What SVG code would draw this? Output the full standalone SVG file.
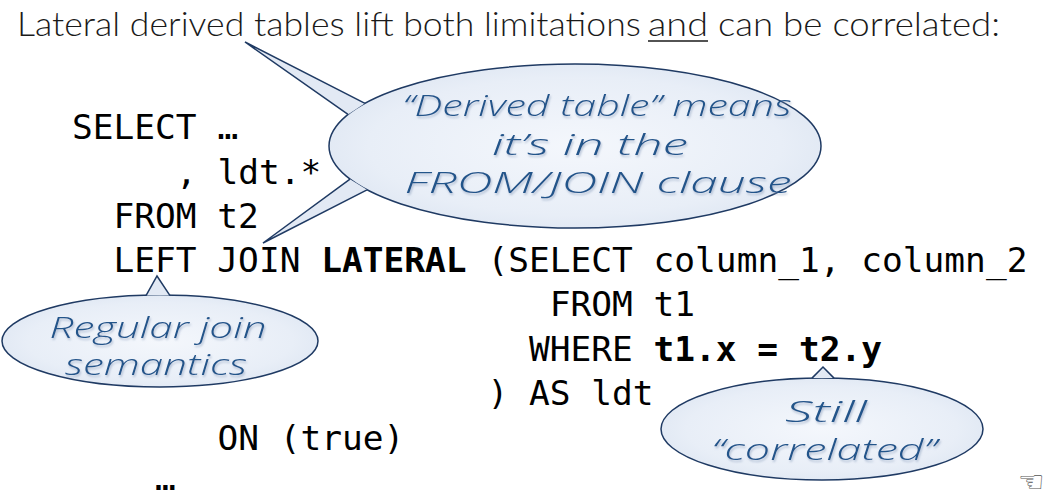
<svg xmlns="http://www.w3.org/2000/svg" width="1052" height="499" viewBox="0 0 1052 499">
<defs>
<style>
.title{font-family:Lato,"Open Sans","Liberation Sans",sans-serif;font-weight:300;font-size:34px;fill:#1a1a1a}
.code{font-family:"DejaVu Sans Mono","Liberation Mono",monospace;font-size:34.5px;fill:#000;white-space:pre}
.b{font-weight:bold}
.bubble{fill:url(#bg);stroke:#1f3a63;stroke-width:1.5}
.tail{fill:#e2e9f4;stroke:#1f3a63;stroke-width:1.5}
.hand{font-family:"Open Sans","DejaVu Sans",sans-serif;font-style:italic;font-weight:300;font-size:29px;fill:#24548a;text-anchor:middle;filter:url(#sh)}
</style>
<radialGradient id="bg" cx="0.5" cy="0.5" r="0.6">
<stop offset="0" stop-color="#f4f7fc"/>
<stop offset="0.7" stop-color="#e8eef7"/>
<stop offset="1" stop-color="#dbe4f1"/>
</radialGradient>
<filter id="sh" x="-10%" y="-30%" width="120%" height="160%">
<feDropShadow dx="1" dy="2" stdDeviation="1.2" flood-color="#7f95b5" flood-opacity="0.55"/>
</filter>
</defs>
<rect width="1052" height="499" fill="#fff"/>
<g id="title">
<text class="title" x="17" y="36" textLength="624" lengthAdjust="spacingAndGlyphs">Lateral derived tables lift both limitations</text>
<text class="title" x="648" y="36" textLength="60" lengthAdjust="spacingAndGlyphs">and</text>
<text class="title" x="718" y="36" textLength="282" lengthAdjust="spacingAndGlyphs">can be correlated:</text>
<line x1="648" y1="41" x2="708" y2="41" stroke="#1a1a1a" stroke-width="1.5"/>
</g>
<g id="code">
<text class="code" x="72" y="139">SELECT …</text>
<text class="code" x="175.9" y="184">, ldt.*</text>
<text class="code" x="113.5" y="228">FROM t2</text>
<text class="code" x="113.5" y="272">LEFT JOIN <tspan class="b">LATERAL</tspan> (SELECT column_1, column_2</text>
<text class="code" x="549.7" y="316">FROM t1</text>
<text class="code" x="528.9" y="361">WHERE <tspan class="b">t1.x = t2.y</tspan></text>
<text class="code" x="487.4" y="405">) AS ldt</text>
<text class="code" x="217.4" y="450">ON (true)</text>
<text class="code" x="155.1" y="490">…</text>
</g>
<g id="callout-derived">
<ellipse class="bubble" cx="575" cy="146" rx="246" ry="82"/>
<path class="tail" d="M365,103.3 L245,42 L348,114.4"/>
<path class="tail" d="M350,179.2 L263,243 L367,189.8"/>
<text class="hand" x="597" y="116" textLength="389" lengthAdjust="spacingAndGlyphs">“Derived table” means</text>
<text class="hand" x="590" y="155" textLength="196" lengthAdjust="spacingAndGlyphs">it’s in the</text>
<text class="hand" x="598" y="193" textLength="387" lengthAdjust="spacingAndGlyphs">FROM/JOIN clause</text>
</g>
<g id="callout-join">
<ellipse class="bubble" cx="160" cy="341" rx="158" ry="46"/>
<path class="tail" d="M146,295.6 L157,276 L170,295.6"/>
<text class="hand" x="158" y="338" textLength="217" lengthAdjust="spacingAndGlyphs">Regular join</text>
<text class="hand" x="156" y="375" textLength="182" lengthAdjust="spacingAndGlyphs">semantics</text>
</g>
<g id="callout-correlated">
<ellipse class="bubble" cx="822" cy="429" rx="161" ry="51"/>
<path class="tail" d="M812,378.1 L823,367 L834,378.1"/>
<text class="hand" x="826" y="422" textLength="82" lengthAdjust="spacingAndGlyphs">Still</text>
<text class="hand" x="824" y="460" textLength="225" lengthAdjust="spacingAndGlyphs">“correlated”</text>
</g>
<g id="cursor">
<text x="1018" y="492" font-family="DejaVu Sans,sans-serif" font-size="30" fill="#555">☜</text>
</g>
</svg>
